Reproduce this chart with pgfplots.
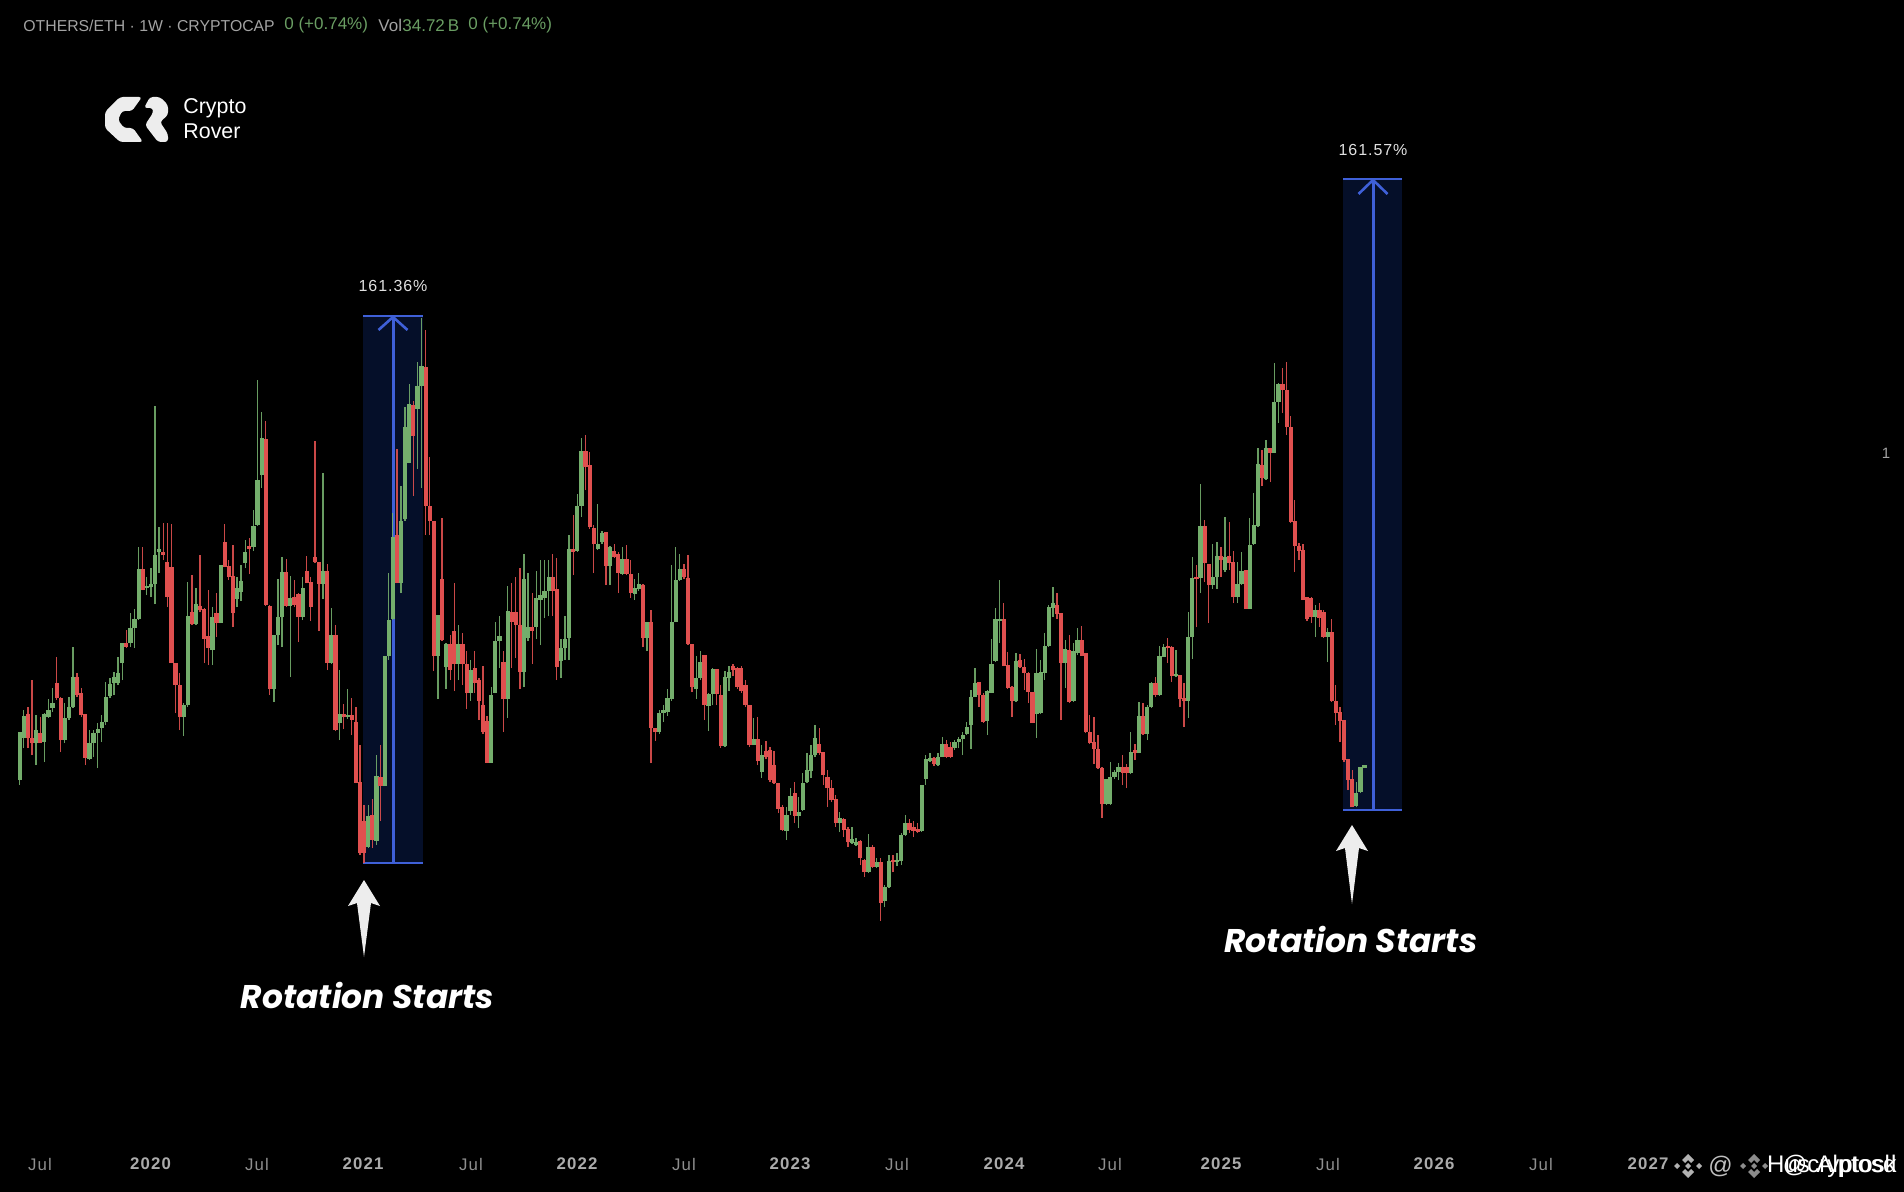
\documentclass[border=0pt]{standalone}
\usepackage{fontspec}
\usepackage{pgfplots}
\usepackage{pgfplotstable}
\pgfplotsset{compat=1.18}
\setmainfont{Liberation Sans}
\newfontfamily\tickf[LetterSpace=7]{Liberation Sans}
\newfontfamily\pctf[LetterSpace=6]{Liberation Sans}
\newfontfamily\popf{Poppins}
\definecolor{gcol}{HTML}{74AE6C}
\definecolor{rcol}{HTML}{E0504F}
\definecolor{navy}{HTML}{050F29}
\definecolor{bluel}{HTML}{3F60D8}
\definecolor{hgray}{HTML}{A3A3A3}
\definecolor{hgreen}{HTML}{6A9E63}
% week index, body top, body bottom, high, low (in picture rows), d=1 rising
\pgfplotstableread{
i t b h l d
0 732 780 732 785 1
1 716 738 710 748 1
2 714 738 707 748 0
3 738 743 680 755 0
4 730 743 715 765 1
5 733 743 717 743 0
6 714 742 713 762 1
7 710 717 699 718 1
8 703 708 688 712 1
9 683 698 657 700 0
10 698 740 697 752 0
11 718 740 703 743 1
12 707 718 697 720 1
13 677 707 647 708 1
14 677 695 673 697 0
15 693 715 688 717 0
16 714 758 714 765 0
17 743 759 730 760 1
18 733 743 730 757 1
19 729 733 723 768 1
20 722 728 715 742 1
21 697 722 682 725 1
22 684 696 678 698 1
23 677 683 672 695 1
24 673 683 657 685 1
25 643 663 643 680 1
26 643 647 630 648 0
27 628 643 613 647 1
28 619 628 609 648 1
29 569 619 547 620 1
30 569 590 547 590 0
31 586 588 577 595 1
32 584 587 568 597 1
33 555 584 406 604 1
34 549 552 527 573 1
35 552 555 523 560 0
36 562 597 523 607 0
37 567 663 524 663 0
38 663 685 663 713 0
39 685 717 673 730 0
40 705 717 703 736 1
41 616 705 582 707 1
42 612 624 575 625 0
43 604 624 588 625 1
44 606 610 555 612 0
45 609 639 608 663 0
46 636 648 590 665 0
47 617 650 607 665 1
48 613 623 593 637 0
49 565 623 565 623 1
50 542 567 524 567 0
51 566 577 560 580 0
52 576 613 545 627 0
53 588 599 577 607 1
54 581 592 565 601 1
55 552 563 540 568 1
56 546 549 538 574 0
57 526 547 510 551 1
58 480 525 380 526 1
59 438 475 412 488 1
60 439 605 421 606 0
61 606 689 605 695 0
62 635 689 635 702 1
63 617 635 579 645 1
64 572 617 557 647 1
65 572 606 559 607 0
66 598 606 576 677 1
67 597 605 580 607 0
68 594 617 593 642 0
69 588 617 577 620 1
70 571 583 556 583 0
71 582 607 577 621 0
72 557 562 441 563 0
73 562 584 562 631 0
74 571 584 473 599 1
75 571 663 564 670 0
76 635 663 608 664 1
77 635 730 625 731 0
78 714 723 670 740 1
79 714 717 704 729 0
80 715 717 689 719 1
81 715 720 698 735 0
82 722 783 707 783 0
83 782 852.5 745 855 0
84 821 852.5 805 863 0
85 816 847 805 848 1
86 815 840 799 848 0
87 776 841 755 845 1
88 777 786 745 821 0
89 656 786 656 786 1
90 620 656 573 660 1
91 537 619 513 620 1
92 535 583 449 583 0
93 521 583 486 593 1
94 427 519 407 521 1
95 403.5 463 384 463 1
96 405 436 401 496 0
97 386 409 362 469 1
98 366 386 318 488 1
99 367 506 330 535 0
100 506 521 457 535 0
101 521 656 521 671 0
102 615 656 615 699 1
103 579 640 517.5 641 0
104 644 667 643 689 1
105 644 670 635 680 0
106 631 664 583 691 0
107 644 664 624.5 680 1
108 644 664 633 685 0
109 664 693 651 709 0
110 670 693 660 701 1
111 668 682.5 651 693 0
112 680 701 678 720 0
113 704.5 732 666 734 0
114 721 762.5 716 763 0
115 695 762.5 687 763 1
116 641 693 622 693 1
117 636 641 616 668 1
118 662 699 651 732 0
119 611 699 586 718 1
120 612 622 583 668 0
121 612 624.5 577 658 0
122 624.5 672 568 689 0
123 579 672 554 687 1
124 627 638 573 641 1
125 627 631 593 664 0
126 598 627 571 639 1
127 595 600 560 645 1
128 591 597.5 560 618 1
129 577 591 560 616 1
130 577 591 554 616 0
131 589 667 558 680 0
132 648 660.5 639 678 1
133 639 648 616 660 1
134 549 638 535 660 1
135 549 552 515 575 0
136 506 551 494 552 1
137 451 506 438 517 1
138 451 467 435 490 0
139 465 527 452 529 0
140 528 544 525 573 0
141 544 549 504 550 1
142 533 541.5 531 544 1
143 532 566 532 585 0
144 547 566 546 585 1
145 551 557 544 558 0
146 554 573 552 593 0
147 559 573.5 547 575 1
148 559 573.5 544.5 575 0
149 573.5 593 560 597.5 0
150 588 594 579 600 1
151 584 589 573 591 1
152 585 638 584 647 0
153 622 638 622 651 1
154 622 728 610 763 0
155 728 732 728 740.5 0
156 713 732 709.5 733.5 1
157 710 713 705 722 1
158 698 711.5 689 716 1
159 622 699 565 701 1
160 580 622 547 622 1
161 569 580 554 581 1
162 568.5 577 564 579 0
163 578 644 555 645 0
164 644 687 644 692 0
165 678 689 656 699 1
166 662 678 651 680 1
167 655 705 655 720 0
168 694 706 693 731 1
169 669 694 668 705 1
170 669 694 669 705 0
171 695 746 685 748 0
172 677 746 671 747 1
173 672 678 666 691 1
174 666 670 664 676 0
175 668 687 667 689 0
176 668 691 666 693 0
177 685 705 680 707 0
178 705 745 704.5 747 0
179 738.5 745 718 745 1
180 738.5 761 717 765 0
181 755 772 745 778 1
182 751 757 740.5 759 0
183 750 780 747 782 0
184 765 783 751 784 0
185 783 809 783 813 0
186 807 830 805 831 0
187 815 831 807 840 1
188 796 811 788 815 1
189 793 816 782 823 0
190 812 816 797 828 1
191 783 810 773 811 1
192 770 782 753 783 1
193 755 771 745 778 1
194 738 755 725 757 1
195 744 753 728 755 0
196 752 775 752 785 0
197 777 788 770 807 0
198 788 800 780 802 0
199 799 823 795 827 0
200 818 823 812 832 1
201 819 830 818 837 0
202 829 842 827 847 0
203 839 843 827 844 1
204 842 845 838 846 1
205 841 858 840 865 0
206 860 872 859 877 0
207 847 872 834 873 1
208 847 867 845 868 0
209 862 867 858 868 1
210 862 903 858 921 0
211 887 901 885 907 1
212 861 887 855 888 1
213 860 862 855 872 0
214 860 862 853 866 1
215 835 861 833 865 1
216 823 835 815 836 1
217 823 830 819 833 0
218 827 831 821 837 0
219 829 832 823 833 0
220 785 831 785 832 1
221 759 779 755 785 1
222 758 761 753 762 1
223 758 764 757 766 0
224 757 765 753 766 1
225 744 757 737 757 1
226 744 757 740 758 0
227 747 757 742 758 0
228 742 748 740 750 1
229 739 742 737 748 1
230 735 739 732 755 1
231 727 734 722 735 1
232 697 725 690 749 1
233 683 697 668 697 1
234 682 695 682 707 0
235 695 722 693 723 0
236 691 721 690 735 1
237 664 693 639 693 1
238 619 661 608 662 1
239 619 621 580 643 1
240 619 666 603 666 0
241 665 688 652 689 0
242 687 701 686 717 0
243 661 701 653 702 1
244 660 667 654 668 0
245 667 673 659 690 0
246 673 692 672 703 0
247 692 723 692 723 0
248 673 714 649 738 1
249 672 713 660 714 1
250 646 673 633 680 1
251 607 646 605 647 1
252 603 608 587 617 1
253 605 614 593 619 0
254 613 663 613 720 0
255 649 663 640 688 1
256 650 702 635 703 0
257 651 701 643 702 1
258 640 653 628 655 1
259 640 656 626 656 0
260 653 732 653 733 0
261 732 743 715 744 0
262 742 749 717 764 0
263 749 768 735 769 0
264 768 804 767 818 0
265 779 804 779 805 1
266 777 804 762 805 1
267 772 777 770 779 1
268 767 772 763 780 1
269 767 773 755 785 0
270 767 773 764 788 0
271 752 773 732 774 1
272 750 753 744 760 0
273 716 753 702 753 1
274 716 734 703 735 0
275 707 734 705 740 1
276 683 707 682 708 1
277 683 695 677 697 0
278 656 695 646 696 1
279 647 657 644 657 1
280 646 648 638 663 0
281 647 676 646 682 0
282 674 676 650 677 1
283 675 699 675 707 0
284 698 701 683 727 0
285 637 701 612 718 1
286 578 637 557 659 1
287 577 579 565 627 0
288 526 578 484 593 1
289 526 563 520 582 0
290 564 585 564 623 0
291 577 585 544 589 1
292 556 577 542 589 1
293 556 560 547 577 0
294 557 570 517 572 1
295 556 563 522 570 0
296 562 597 551 603 0
297 584 597 562 603 1
298 571 584 552 585 1
299 570 609 570 609 0
300 545 609 518 609 1
301 525 544 493 545 1
302 464 526 448 527 1
303 465 478 450 486 0
304 448 479 440 480 1
305 448 453 448 482 0
306 402 453 363 453 1
307 384 402 383 423 1
308 384 390 368 413 0
309 390 427 362 435 0
310 427 522 416 523 0
311 521 546 500 572 0
312 546 551 543 560 0
313 550 600 544 600 0
314 597 619 597 621 0
315 598 617 597 623 0
316 610 617 605 637 1
317 610 618 603 627 0
318 612 637 610 638 0
319 632 637 628 662 1
320 632 701 619 702 0
321 701 713 685 725 0
322 712 721 707 742 0
323 720 760 720 762 0
324 759 780 759 790 0
325 779 807 770 807 0
326 793 806 782 807 1
327 767 792 767 793 1
328 765 768 765 768 1
}\candles
\newcommand\wicks[2]{\addplot[draw=none,forget plot,
  error bars/.cd,y dir=minus,y explicit,error mark=none,
  error bar style={draw=#2,line width=0.65pt,opacity=.9}]
  table[x expr={19.7+4.1*\thisrow{i}},
        y expr={\thisrow{d}==#1 ? \thisrow{l} : nan},
        y error minus expr={\thisrow{l}-\thisrow{h}}] {\candles};}
\newcommand\bodies[2]{\addplot[draw=none,forget plot,
  error bars/.cd,y dir=minus,y explicit,error mark=none,
  error bar style={draw=#2,line width=2.1pt}]
  table[x expr={19.7+4.1*\thisrow{i}},
        y expr={\thisrow{d}==#1 ? \thisrow{b} : nan},
        y error minus expr={\thisrow{b}-\thisrow{t}}] {\candles};}
\newcommand\yr[1]{\textcolor[HTML]{ABABAB}{\tickf\bfseries #1}}
\newcommand\jl{\textcolor[HTML]{8E8E8E}{\tickf Jul}}
\newcommand\bnb[3]{%
  \begin{scope}[shift={(axis cs:#1,#2)}]
  \fill[#3] (0,6pt)--(3pt,3pt)--(1.5pt,1.5pt)--(0,3pt)--(-1.5pt,1.5pt)--(-3pt,3pt)--cycle;
  \fill[#3] (0,-6pt)--(3pt,-3pt)--(1.5pt,-1.5pt)--(0,-3pt)--(-1.5pt,-1.5pt)--(-3pt,-3pt)--cycle;
  \fill[#3] (0,1.5pt)--(1.5pt,0)--(0,-1.5pt)--(-1.5pt,0)--cycle;
  \fill[#3] (4pt,0)--(5.5pt,1.5pt)--(7pt,0)--(5.5pt,-1.5pt)--cycle;
  \fill[#3] (-4pt,0)--(-5.5pt,1.5pt)--(-7pt,0)--(-5.5pt,-1.5pt)--cycle;
  \end{scope}}
\begin{document}
\begin{tikzpicture}
\begin{axis}[
  scale only axis,width=952pt,height=596pt,
  xmin=0,xmax=1904,ymin=0,ymax=1192,y dir=reverse,
  axis background/.style={fill=black},
  axis line style={draw=none},
  major tick length=0pt,
  tick style={draw=none},
  clip=false,
  xtick={40,150.5,257,363,471,577,684,790,897,1004,1110,1221,1328,1434,1541,1648},
  xticklabels={\jl,\yr{2020},\jl,\yr{2021},\jl,\yr{2022},\jl,\yr{2023},\jl,\yr{2024},\jl,\yr{2025},\jl,\yr{2026},\jl,\yr{2027}},
  xticklabel pos=lower,
  xticklabel style={font=\fontsize{8.4}{9}\selectfont,anchor=center,yshift=14pt},
  ytick={453},yticklabels={1},
  yticklabel pos=right,
  yticklabel style={font=\fontsize{7.5}{9}\selectfont,text=hgray,anchor=center,xshift=-9pt},
]
% measuring boxes
\addplot[fill=navy,draw=none,forget plot] coordinates {(363.3,316)(422.7,316)(422.7,863)(363.3,863)} --cycle;
\addplot[fill=navy,draw=none,forget plot] coordinates {(1343,179)(1402,179)(1402,810)(1343,810)} --cycle;
\addplot[bluel,line width=1.3pt,forget plot] coordinates {(363.3,316)(422.7,316)};
\addplot[bluel,line width=1.3pt,forget plot] coordinates {(363.3,863)(422.7,863)};
\addplot[bluel,line width=1.5pt,forget plot] coordinates {(393,316)(393,863)};
\addplot[bluel,line width=1.3pt,forget plot] coordinates {(378.5,330)(393,317)(407.5,330)};
\addplot[bluel,line width=1.3pt,forget plot] coordinates {(1343,179)(1402,179)};
\addplot[bluel,line width=1.3pt,forget plot] coordinates {(1343,810)(1402,810)};
\addplot[bluel,line width=1.5pt,forget plot] coordinates {(1373,179)(1373,810)};
\addplot[bluel,line width=1.3pt,forget plot] coordinates {(1358.5,194)(1373,180)(1387.5,194)};
% candles
\wicks{1}{gcol}
\wicks{0}{rcol}
\bodies{1}{gcol}
\bodies{0}{rcol}
% arrows
\addplot[fill=black!7,draw=none,forget plot] coordinates {(364,880)(380,906)(371,903)(364,957)(357,903)(348,906)} --cycle;
\addplot[fill=black!7,draw=none,forget plot] coordinates {(1352,825)(1368,851)(1359,848)(1352,904)(1345,848)(1336,851)} --cycle;
% texts
\node[text=white,font=\popf\bfseries\itshape\fontsize{16.4}{20}\selectfont] at (axis cs:367.5,995) {Rotation Starts};
\node[text=white,font=\popf\bfseries\itshape\fontsize{16.4}{20}\selectfont] at (axis cs:1351,939) {Rotation Starts};
\node[text=black!12,font=\pctf\fontsize{8}{10}\selectfont] at (axis cs:393,286) {161.36\%};
\node[text=black!12,font=\pctf\fontsize{8}{10}\selectfont] at (axis cs:1373,150) {161.57\%};
% header
\node[anchor=west,inner sep=0pt,text=hgray,font=\fontsize{7.9}{10}\selectfont] at (axis cs:23,25.5) {OTHERS/ETH · 1W · CRYPTOCAP};
\node[anchor=west,inner sep=0pt,text=hgreen,font=\fontsize{8.5}{10}\selectfont] at (axis cs:284,25.5) {0 (+0.74\%)};
\node[anchor=west,inner sep=0pt,text=hgray,font=\fontsize{8.5}{10}\selectfont] at (axis cs:378,25.5) {Vol};
\node[anchor=west,inner sep=0pt,text=hgreen,font=\fontsize{8.5}{10}\selectfont] at (axis cs:402,25.5) {34.72\,B};
\node[anchor=west,inner sep=0pt,text=hgreen,font=\fontsize{8.5}{10}\selectfont] at (axis cs:468,25.5) {0 (+0.74\%)};
% logo
\fill[black!7,rounded corners=1.5pt] (axis cs:142,97)--(120,97)--(105,112)--(105,128)--(120,142)--(143,142)--(133,128)--(124,128)--(118,120)--(122,111)--(132,111)--cycle;
\fill[black!7,rounded corners=1.5pt] (axis cs:150,97)--(160,97)--(168,105)--(168,115)--(160,122)--(168,134)--(168,142)--(158,142)--(145,125)--(153,113)--(153,108)--(144,108)--cycle;
\node[anchor=west,inner sep=0pt,text=white,font=\fontsize{10.7}{12}\selectfont] at (axis cs:183,108) {Crypto};
\node[anchor=west,inner sep=0pt,text=white,font=\fontsize{10.7}{12}\selectfont] at (axis cs:183,131) {Rover};
% watermark overlay
\bnb{1688}{1166}{black!30}
\bnb{1754}{1166}{black!45}
\node[anchor=west,inner sep=0pt,text=black!25,font=\fontsize{12}{14}\selectfont] at (axis cs:1708,1166) {@};
\node[anchor=east,inner sep=0pt,text=white,font=\fontsize{12}{14}\selectfont] at (axis cs:1897,1166) {Hus Alptosd};
\node[anchor=east,inner sep=0pt,text=white,font=\fontsize{12}{14}\selectfont] at (axis cs:1897,1166) {@cryptosk};
\end{axis}
\end{tikzpicture}
\end{document}
